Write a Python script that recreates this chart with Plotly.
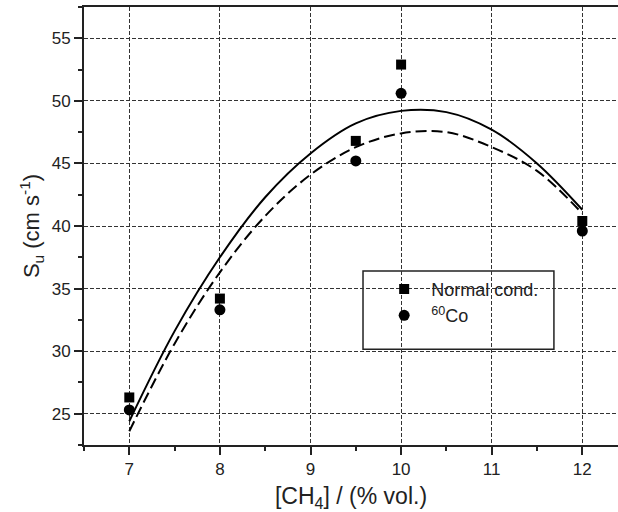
import plotly.graph_objects as go

# Measured data
ch4 = [7, 8, 9.5, 10, 12]
su_normal = [26.3, 34.2, 46.8, 52.9, 40.4]
su_co60 = [25.3, 33.3, 45.2, 50.6, 39.6]

# Fitted curves
fit_x = [7, 7.5, 8, 8.5, 9, 9.5, 10, 10.5, 11, 11.5, 12]
fit_normal = [24.4, 31.6, 37.5, 42.3, 45.8, 48.2, 49.2, 49.1, 47.7, 45.0, 41.3]
fit_co60 = [23.6, 30.6, 36.3, 40.8, 44.1, 46.3, 47.4, 47.5, 46.3, 44.4, 41.0]

x_ticks = [7, 8, 9, 10, 11, 12]
y_ticks = [25, 30, 35, 40, 45, 50, 55]

FONT = "Arial, Liberation Sans, sans-serif"

fig = go.Figure()
fig.add_trace(go.Scatter(x=fit_x, y=fit_normal, mode="lines", line=dict(color="black", width=2, shape="spline"),
                         showlegend=False, hoverinfo="skip"))
fig.add_trace(go.Scatter(x=fit_x, y=fit_co60, mode="lines",
                         line=dict(color="black", width=2, shape="spline", dash="11px,5px"),
                         showlegend=False, hoverinfo="skip"))
fig.add_trace(go.Scatter(x=ch4, y=su_normal, mode="markers", name="Normal cond.", legendgroup="a",
                         marker=dict(symbol="square", size=10, color="black")))
fig.add_trace(go.Scatter(x=ch4, y=su_co60, mode="markers", name="<sup>60</sup>Co", legendgroup="b",
                         marker=dict(symbol="circle", size=11, color="black")))

axis_common = dict(
    showline=True, linecolor="#222", linewidth=2,
    ticks="outside", ticklen=8, tickwidth=1.5, tickcolor="#222",
    showgrid=True, gridcolor="#333", gridwidth=1, griddash="4px,2px",
    zeroline=False,
    tickfont=dict(family=FONT, size=17, color="#222"),
)

fig.update_xaxes(
    range=[6.5, 12.394], tickvals=x_ticks, mirror=True,
    minor=dict(dtick=0.5, tick0=6.5, ticks="outside", ticklen=4, tickwidth=1.5, tickcolor="#222", showgrid=False),
    title=dict(text="[CH<sub>4</sub>] / (% vol.)", font=dict(family=FONT, size=23, color="#222"), standoff=14),
    **axis_common,
)
fig.update_yaxes(
    range=[22.5, 57.5], tickvals=y_ticks, mirror=False,
    minor=dict(dtick=2.5, tick0=22.5, ticks="outside", ticklen=4, tickwidth=1.5, tickcolor="#222", showgrid=False),
    title=dict(text="S<sub>u</sub> (cm s<sup>-1</sup>)", font=dict(family=FONT, size=22, color="#222"), standoff=6),
    **axis_common,
)

fig.add_shape(type="rect", xref="paper", yref="paper", x0=0.5225, x1=0.88, y0=0.2187, y1=0.397,
              line=dict(color="#222", width=1.5), fillcolor="white", layer="between")

fig.update_layout(
    width=618, height=512,
    margin=dict(l=84, r=0, t=7, b=67),
    paper_bgcolor="white", plot_bgcolor="white",
    font=dict(family=FONT, color="#222"),
    legend=dict(x=0.549, y=0.398, xanchor="left", yanchor="top", bgcolor="rgba(0,0,0,0)",
                borderwidth=0, font=dict(family=FONT, size=18, color="#222"),
                itemwidth=44, tracegroupgap=0, traceorder="grouped"),
)

fig.write_html("out.html", config={"displayModeBar": False},
               post_script="document.body.style.margin='0';document.body.style.overflow='hidden';")
